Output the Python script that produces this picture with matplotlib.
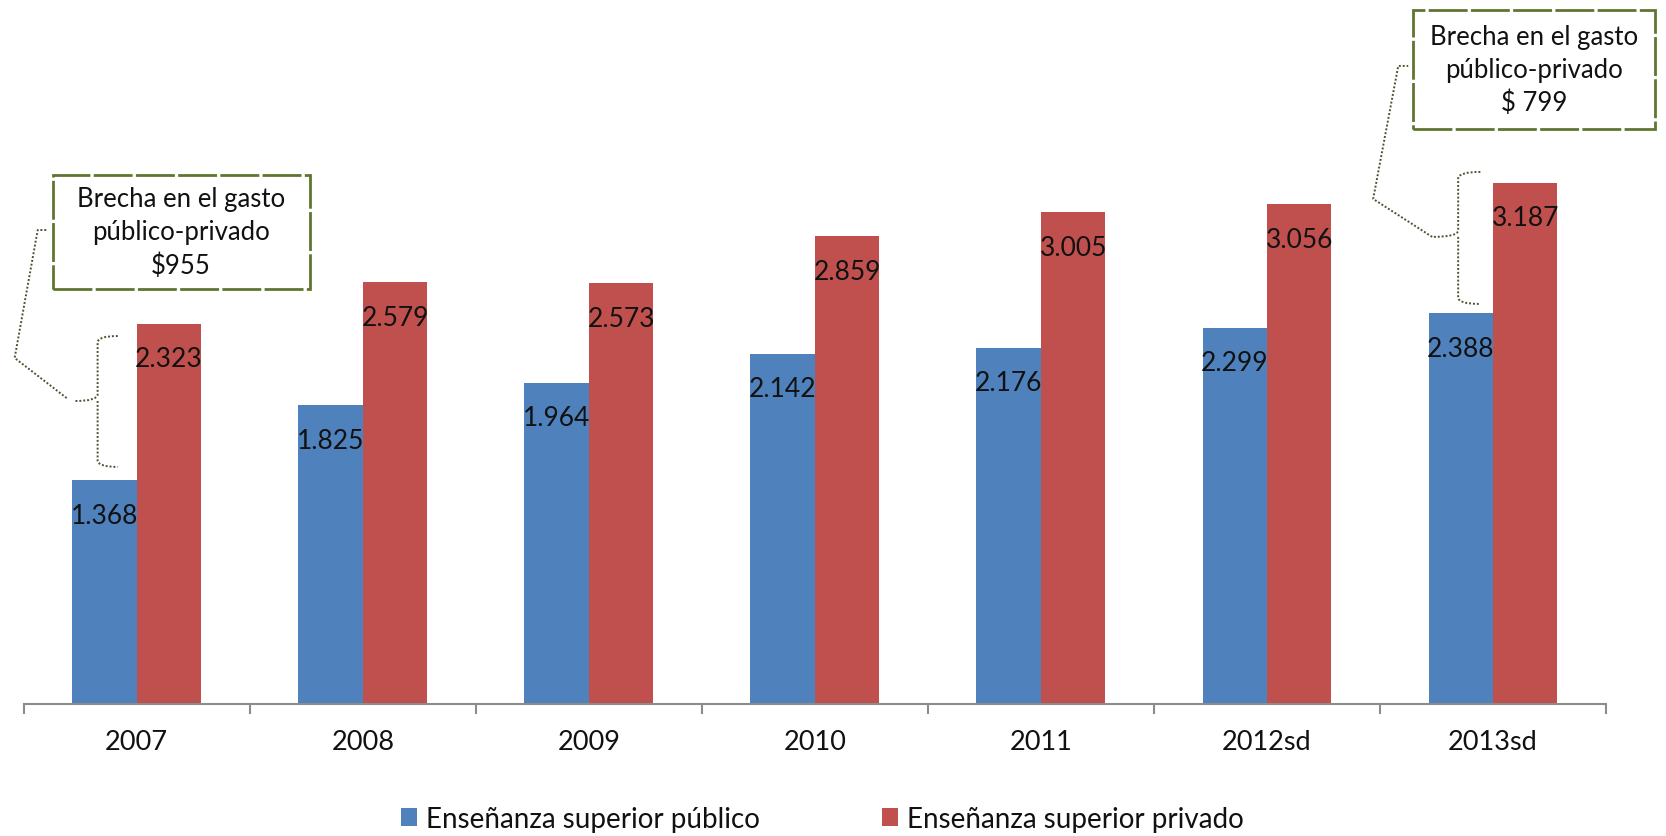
import matplotlib
matplotlib.use("Agg")
import matplotlib.pyplot as plt
from matplotlib.path import Path
from matplotlib.patches import PathPatch, Rectangle
import numpy as np

years = ["2007", "2008", "2009", "2010", "2011", "2012sd", "2013sd"]
publico = [1368, 1825, 1964, 2142, 2176, 2299, 2388]
privado = [2323, 2579, 2573, 2859, 3005, 3056, 3187]
series_names = ["Enseñanza superior público", "Enseñanza superior privado"]
gap_labels = ["Brecha en el gasto\npúblico-privado\n$955", "Brecha en el gasto\npúblico-privado\n$ 799"]

BLUE = "#4F81BD"
RED = "#C0504D"
GREEN = "#5F7530"
FONT = ["Lato", "DejaVu Sans"]
plt.rcParams["font.family"] = FONT

W, H = 1666, 837
fig = plt.figure(figsize=(W / 100, H / 100), dpi=100)
ax = fig.add_axes([23.7 / W, 132 / H, (1606 - 23.7) / W, 705 / H])

x = np.arange(len(years))
bw = 0.285
ax.bar(x - bw / 2, publico, bw, color=BLUE, label=series_names[0])
ax.bar(x + bw / 2, privado, bw, color=RED, label=series_names[1])

def fmt(v):
    return f"{v:,}".replace(",", ".")

for xi, v in zip(x - bw / 2, publico):
    ax.annotate(fmt(v), (xi, v), xytext=(0, -35), textcoords="offset pixels",
                ha="center", va="center", fontsize=19, color="#111111")
for xi, v in zip(x + bw / 2, privado):
    ax.annotate(fmt(v), (xi, v), xytext=(0, -35), textcoords="offset pixels",
                ha="center", va="center", fontsize=19, color="#111111")

ax.set_xlim(-0.5, len(years) - 0.5)
ax.set_ylim(0, 4309)
ax.set_yticks([])
for s in ["left", "right", "top"]:
    ax.spines[s].set_visible(False)
ax.spines["bottom"].set_color("#8C8C8C")
ax.spines["bottom"].set_linewidth(1.5)
ax.set_xticks(x)
ax.set_xticklabels(years, fontsize=19.5, color="#111111")
ax.tick_params(axis="x", which="major", length=0, pad=18)
ax.set_xticks(np.arange(-0.5, len(years), 1.0), minor=True)
ax.tick_params(axis="x", which="minor", length=7.5, width=1.5, color="#8C8C8C")


def brace(xv, xend, xtip, top, bottom, mid):
    ry = 40
    verts = [(xend, top), (xv, top), (xv, top - ry),
             (xv, mid + ry), (xv, mid), (xtip, mid),
             (xv, mid), (xv, mid - ry),
             (xv, bottom + ry), (xv, bottom), (xend, bottom)]
    codes = [Path.MOVETO, Path.CURVE3, Path.CURVE3,
             Path.LINETO, Path.CURVE3, Path.CURVE3,
             Path.MOVETO, Path.CURVE3, Path.LINETO, Path.CURVE3, Path.CURVE3]
    p = PathPatch(Path(verts, codes), fill=False, edgecolor="#4A5530",
                  lw=1.4, ls=(0, (1, 1)), clip_on=False)
    ax.add_patch(p)


def leader(pts):
    xs, ys = zip(*pts)
    ax.plot(xs, ys, color="#4A5530", lw=1.4, ls=(0, (1, 1)), clip_on=False)


def gapbox(x0, x1, y0, y1, text):
    rect = Rectangle((x0, y0), x1 - x0, y1 - y0, fill=True, facecolor="white",
                     edgecolor=GREEN, lw=2.0, ls=(0, (14, 1.2)), clip_on=False)
    ax.add_patch(rect)
    ax.text((x0 + x1) / 2, (y0 + y1) / 2, text, ha="center", va="center",
            fontsize=18.5, linespacing=1.4, color="#111111", clip_on=False)

# gap annotation 2007
i = 0
brace(i - 0.173, i - 0.084, i - 0.274, privado[i] - 74, publico[i] + 81, 1852)
leader([(i - 0.31, 1870), (i - 0.54, 2115), (i - 0.438, 2897), (i - 0.394, 2897)])
gapbox(i - 0.372, i + 0.765, 2537, 3233, gap_labels[0])

# gap annotation 2013sd
i = 6
brace(i - 0.154, i - 0.056, i - 0.269, privado[i] + 65, publico[i] + 57, 2855)
leader([(i - 0.269, 2855), (i - 0.53, 3087), (i - 0.419, 3900), (i - 0.375, 3900)])
gapbox(i - 0.353, i + 0.715, 3515, 4242, gap_labels[1])

handles, labels = ax.get_legend_handles_labels()
fig.legend(handles, labels, loc="center", bbox_to_anchor=(822 / W, 17 / H),
           ncol=2, frameon=False, fontsize=20, handlelength=0.6, handleheight=0.6,
           handletextpad=0.3, columnspacing=4.4, labelcolor="#111111")

fig.savefig("out.png", dpi=100)
